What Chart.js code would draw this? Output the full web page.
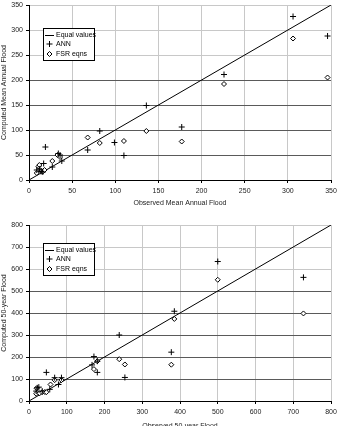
<!DOCTYPE html>
<html>
<head>
<meta charset="utf-8">
<script src="https://cdn.jsdelivr.net/npm/chart.js@4/dist/chart.umd.min.js"></script>
<style>
  html, body { margin: 0; padding: 0; background: #fff; overflow: hidden; }
  body { width: 341px; height: 426px; position: relative; }
  .box { position: absolute; left: 0; width: 341px; }
</style>
</head>
<body>
<div class="box" style="top:0;height:210px"><canvas id="meanChart"></canvas></div>
<div class="box" style="top:210px;height:222px"><canvas id="q50Chart"></canvas></div>
<script>
// Mean annual flood: observed (x) vs computed (y)
const meanAnnX = [9, 12, 14, 16, 17, 19, 27, 34, 36, 38, 68, 82, 99, 110, 136, 177, 226, 306, 346];
const meanAnnY = [20, 22, 17, 16, 33, 66, 26, 53, 50, 38, 60, 98, 75, 49, 149, 106, 211, 327, 288];
const meanFsrX = [9, 11, 12, 14, 16, 18, 27, 33, 36, 68, 82, 110, 136, 177, 226, 306, 346];
const meanFsrY = [14, 27, 30, 18, 17, 20, 38, 50, 46, 85, 74, 78, 98, 77, 192, 283, 205];

// 50-year flood
const q50AnnX = [19, 22, 26, 35, 46, 55, 68, 78, 86, 167, 172, 181, 181, 239, 254, 377, 385, 500, 727];
const q50AnnY = [45, 60, 63, 45, 130, 53, 106, 75, 106, 164, 202, 181, 130, 300, 107, 222, 408, 634, 562];
const q50FsrX = [19, 20, 28, 35, 42, 46, 57, 68, 86, 172, 181, 239, 254, 377, 385, 500, 727];
const q50FsrY = [33, 58, 35, 40, 41, 40, 75, 95, 95, 145, 181, 190, 166, 165, 373, 551, 398];

const FONT = { family: "'Liberation Sans', Arial, sans-serif", size: 7 };

function pts(xs, ys) {
    return xs.map((x, i) => ({ x: x, y: ys[i] }));
}

// legend box drawn inside the plot area
const boxLegend = {
    id: 'boxLegend',
    afterDraw(chart, args, opts) {
        const { ctx, chartArea } = chart;
        const x = Math.round(chartArea.left + opts.dx), y = Math.round(chartArea.top + opts.dy);
        const w = 51, h = 32;
        ctx.save();
        ctx.fillStyle = '#fff';
        ctx.fillRect(x, y, w, h);
        ctx.strokeStyle = '#000';
        ctx.lineWidth = 1;
        ctx.strokeRect(x + 0.5, y + 0.5, w, h);
        ctx.font = FONT.size + 'px ' + FONT.family;
        ctx.textBaseline = 'middle';
        ctx.fillStyle = '#000';
        const ds = chart.data.datasets;
        // row 1: line
        let ry = y + 7;
        ctx.beginPath();
        ctx.moveTo(x + 2, ry + 0.5);
        ctx.lineTo(x + 11, ry + 0.5);
        ctx.stroke();
        ctx.fillText(ds[0].label, x + 13, ry);
        // rows 2-3: points
        [ds[1], ds[2]].forEach((d, i) => {
            const yy = y + 16 + i * 10;
            ctx.fillStyle = '#fff';
            ctx.strokeStyle = '#000';
            Chart.helpers.drawPoint(ctx, {
                pointStyle: d.pointStyle, rotation: 0,
                radius: d.pointRadius, borderWidth: 1
            }, x + 6.5, yy);
            ctx.fillStyle = '#000';
            ctx.fillText(d.label, x + 13, yy);
        });
        ctx.restore();
    }
};

function makeChart(id, max, step, darkMax, annX, annY, fsrX, fsrY, xTitle, yTitle, pad, xH, legendPos) {
    const gridCol = (ctx) => (ctx.tick.value <= darkMax ? '#5a5a5a' : '#c8c8c8');
    return new Chart(document.getElementById(id), {
        data: {
            datasets: [{
                type: 'line',
                label: 'Equal values',
                data: [{ x: 0, y: 0 }, { x: max, y: max }],
                borderColor: '#000',
                borderWidth: 1,
                pointRadius: 0,
                order: 3
            }, {
                type: 'scatter',
                label: 'ANN',
                data: pts(annX, annY),
                pointStyle: 'cross',
                pointRadius: 3,
                borderColor: '#000',
                borderWidth: 1
            }, {
                type: 'scatter',
                label: 'FSR eqns',
                data: pts(fsrX, fsrY),
                pointStyle: 'rectRot',
                pointRadius: 2.5,
                borderColor: '#000',
                backgroundColor: '#fff',
                borderWidth: 1
            }]
        },
        options: {
            responsive: true,
            maintainAspectRatio: false,
            animation: false,
            layout: { padding: pad },
            plugins: {
                legend: { display: false },
                tooltip: { enabled: false },
                boxLegend: legendPos
            },
            scales: {
                x: {
                    type: 'linear', min: 0, max: max,
                    ticks: { stepSize: step, font: FONT, color: '#222', padding: 4 },
                    grid: { color: '#c8c8c8', tickLength: 3, tickColor: '#000' },
                    border: { color: '#000' },
                    title: { display: true, text: xTitle, font: FONT, color: '#222', padding: { top: 2, bottom: 0 } },
                    afterFit(s) { s.height = xH; s.paddingLeft = 0; s.paddingRight = 0; }
                },
                y: {
                    type: 'linear', min: 0, max: max,
                    ticks: { stepSize: step, font: FONT, color: '#222', padding: 3 },
                    grid: { color: gridCol, tickLength: 3, tickColor: '#000' },
                    border: { color: '#000' },
                    title: { display: true, text: yTitle, font: FONT, color: '#222', padding: 0 },
                    afterFit(s) { s.width = 29; s.paddingTop = 0; s.paddingBottom = 0; }
                }
            }
        },
        plugins: [boxLegend]
    });
}

makeChart('meanChart', 350, 50, 200, meanAnnX, meanAnnY, meanFsrX, meanFsrY,
    'Observed Mean Annual Flood', 'Computed Mean Annual Flood',
    { left: 0, right: 10, top: 2, bottom: 3 }, 27, { dx: 14, dy: 23 });
makeChart('q50Chart', 800, 100, 500, q50AnnX, q50AnnY, q50FsrX, q50FsrY,
    'Observed 50-year Flood', 'Computed 50-year Flood',
    { left: 0, right: 10, top: 15, bottom: 2 }, 29, { dx: 14, dy: 18 });
</script>
</body>
</html>
